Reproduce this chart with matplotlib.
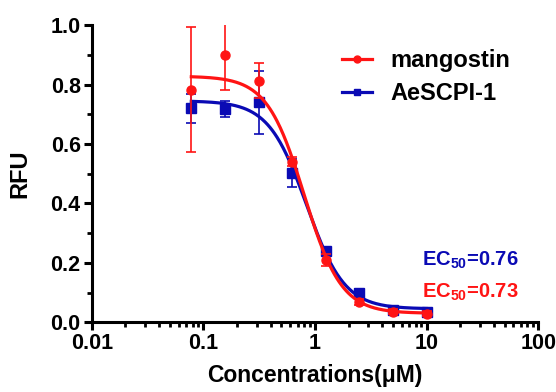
import numpy as np
import matplotlib
matplotlib.use("Agg")
import matplotlib.pyplot as plt
from matplotlib.ticker import FixedLocator, LogLocator, NullFormatter, MultipleLocator

plt.rcParams['font.family'] = ['Liberation Sans', 'DejaVu Sans']
plt.rcParams['font.weight'] = 'bold'
plt.rcParams['mathtext.fontset'] = 'custom'
plt.rcParams['mathtext.rm'] = 'Liberation Sans:bold'
plt.rcParams['mathtext.bf'] = 'Liberation Sans:bold'

# concentrations (uM)
conc = [0.078, 0.156, 0.3125, 0.625, 1.25, 2.5, 5, 10]

# mangostin
mango_mean = [0.783, 0.901, 0.813, 0.540, 0.209, 0.068, 0.036, 0.029]
mango_err = [0.21, 0.12, 0.058, 0.015, 0.02, 0.01, 0.008, 0.008]
# 4PL fit: top, bottom, ec50, hill
mango_fit = [0.828, 0.030, 0.80, 2.6]

# AeSCPI-1
aes_mean = [0.720, 0.716, 0.740, 0.501, 0.240, 0.099, 0.040, 0.035]
aes_err = [0.048, 0.027, 0.105, 0.047, 0.012, 0.012, 0.006, 0.006]
aes_fit = [0.745, 0.045, 0.84, 2.55]

RED = '#ff1414'
BLUE = '#0a0ab4'


def four_pl(x, top, bottom, ec50, hill):
    return bottom + (top - bottom) / (1 + (x / ec50) ** hill)


fig = plt.figure(figsize=(5.56, 3.92), dpi=100)
ax = fig.add_axes([0.165, 0.178, 0.803, 0.758])

xs = np.logspace(np.log10(conc[0]), np.log10(conc[-1]), 300)

# blue first, red on top
ax.plot(xs, four_pl(xs, *aes_fit), color=BLUE, lw=2.3, zorder=2)
ax.errorbar(conc, aes_mean, yerr=aes_err, fmt='s', color=BLUE, ms=6.5,
            elinewidth=1.2, capsize=3.8, capthick=1.2, zorder=3)
ax.plot(xs, four_pl(xs, *mango_fit), color=RED, lw=2.3, zorder=4)
ax.errorbar(conc, mango_mean, yerr=mango_err, fmt='o', color=RED, ms=6.5,
            elinewidth=1.2, capsize=3.8, capthick=1.2, zorder=5)

# legend handles
l1, = ax.plot([], [], color=RED, lw=2.3, marker='o', ms=5)
l2, = ax.plot([], [], color=BLUE, lw=2.3, marker='s', ms=5)
ax.legend([l1, l2], ['mangostin', 'AeSCPI-1'], loc='upper left',
          bbox_to_anchor=(0.54, 0.95), borderaxespad=0, frameon=False,
          fontsize=17, handlelength=1.25, handletextpad=0.8, labelspacing=0.42)

ax.text(0.74, 0.209, r'EC$_{\mathbf{50}}$=0.76', transform=ax.transAxes, color=BLUE,
        fontsize=14.5, fontweight='bold', ha='left', va='center')
ax.text(0.74, 0.099, r'EC$_{\mathbf{50}}$=0.73', transform=ax.transAxes, color=RED,
        fontsize=14.5, fontweight='bold', ha='left', va='center')

ax.set_xscale('log')
ax.set_xlim(0.01, 100)
ax.set_ylim(0, 1.0)
ax.xaxis.set_major_locator(FixedLocator([0.01, 0.1, 1, 10, 100]))
ax.set_xticklabels(['0.01', '0.1', '1', '10', '100'])
ax.xaxis.set_minor_locator(LogLocator(base=10, subs=np.arange(2, 10)))
ax.xaxis.set_minor_formatter(NullFormatter())
ax.yaxis.set_major_locator(MultipleLocator(0.2))
ax.yaxis.set_minor_locator(MultipleLocator(0.1))
ax.set_yticklabels([f'{v:.1f}' for v in ax.get_yticks()])

for s in ['top', 'right']:
    ax.spines[s].set_visible(False)
for s in ['left', 'bottom']:
    ax.spines[s].set_linewidth(2.2)
ax.tick_params(which='major', length=6, width=2.2, labelsize=15.5, pad=2)
ax.tick_params(which='minor', length=3.5, width=2.0)
for t in ax.get_xticklabels() + ax.get_yticklabels():
    t.set_fontweight('bold')

ax.set_xlabel('Concentrations(μM)', fontsize=16.5, fontweight='bold')
ax.set_ylabel('RFU', fontsize=17, fontweight='bold')
ax.xaxis.set_label_coords(0.5, -0.142)
ax.yaxis.set_label_coords(-0.135, 0.5)

fig.savefig('out.png', dpi=100)
